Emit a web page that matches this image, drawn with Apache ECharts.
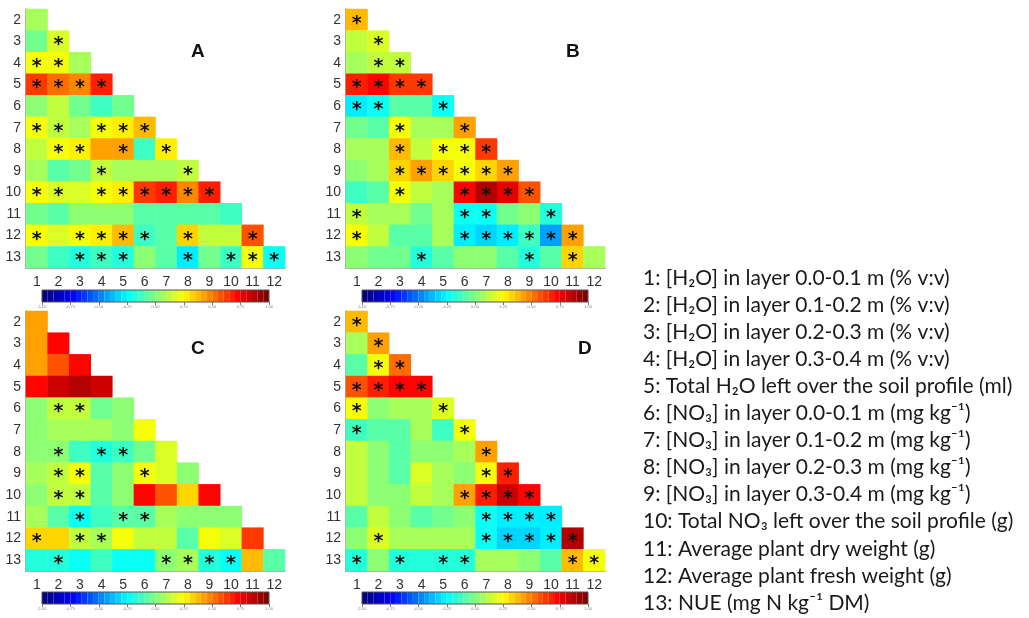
<!DOCTYPE html>
<html><head><meta charset="utf-8">
<script src="https://cdn.jsdelivr.net/npm/echarts@6/dist/echarts.min.js"></script>
<style>html,body{margin:0;padding:0;background:#fff}#c{width:1029px;height:618px}</style>
</head><body><div id="c"></div>
<script>
const colLabels = ['1','2','3','4','5','6','7','8','9','10','11','12'];
const rowLabels = ['2','3','4','5','6','7','8','9','10','11','12','13'];
const panelNames = ['A','B','C','D'];

const valuesA = [
  [0.10],
  [-0.02, 0.18],
  [0.23, 0.25, 0.10],
  [0.65, 0.53, 0.50, 0.70],
  [0.05, 0.13, 0.00, -0.10, -0.01],
  [0.23, 0.15, 0.10, 0.25, 0.28, 0.37],
  [0.15, 0.25, 0.28, 0.42, 0.42, -0.10, 0.26],
  [0.10, -0.07, 0.00, 0.15, 0.10, 0.10, 0.10, 0.13],
  [0.22, 0.17, 0.17, 0.25, 0.30, 0.63, 0.67, 0.50, 0.67],
  [0.00, -0.05, 0.02, 0.02, 0.02, -0.05, -0.07, -0.07, -0.07, -0.10],
  [0.22, 0.17, 0.22, 0.30, 0.36, -0.13, -0.07, 0.35, 0.13, 0.13, 0.57],
  [-0.03, -0.12, -0.18, -0.14, -0.18, 0.05, -0.07, -0.28, 0.00, -0.10, 0.25, -0.20]
];
const starsA = ['0','01','110','1111','00000','110111','0110101','00010001','110111111','0000000000','10111101001','001110010111'];

const valuesB = [
  [0.38],
  [0.15, 0.20],
  [0.10, 0.13, 0.13],
  [0.67, 0.72, 0.63, 0.63],
  [-0.25, -0.23, -0.07, -0.07, -0.23],
  [0.00, -0.07, 0.22, 0.07, 0.10, 0.45],
  [0.07, 0.10, 0.37, 0.13, 0.25, 0.25, 0.63],
  [0.03, 0.10, 0.32, 0.45, 0.35, 0.23, 0.33, 0.45],
  [-0.10, -0.07, 0.25, 0.13, 0.10, 0.72, 0.90, 0.78, 0.60],
  [0.15, 0.07, 0.10, 0.00, 0.10, -0.24, -0.20, -0.01, 0.02, -0.15],
  [0.24, 0.12, -0.07, -0.07, 0.10, -0.25, -0.30, -0.28, -0.13, -0.40, 0.42],
  [0.05, -0.02, -0.02, -0.15, -0.08, 0.05, 0.02, -0.08, -0.15, -0.05, 0.33, 0.10]
];
const starsB = ['1','01','011','1111','11001','001001','0010111','00111111','001001111','1000011001','10000111111','000100001010'];

const valuesC = [
  [0.45],
  [0.42, 0.73],
  [0.42, 0.60, 0.73],
  [0.73, 0.83, 0.87, 0.83],
  [0.02, 0.13, 0.15, -0.01, 0.05],
  [0.02, 0.07, 0.09, 0.07, 0.05, 0.22],
  [0.02, 0.05, -0.10, -0.18, -0.14, -0.01, 0.17],
  [0.09, 0.13, 0.24, -0.05, 0.05, 0.25, 0.20, 0.05],
  [0.02, 0.13, 0.15, -0.05, 0.02, 0.74, 0.57, 0.33, 0.74],
  [0.10, -0.07, -0.20, -0.12, -0.08, -0.05, 0.08, 0.02, 0.05, 0.02],
  [0.31, 0.31, 0.15, 0.10, 0.25, 0.13, 0.13, -0.05, 0.22, 0.17, 0.63],
  [-0.15, -0.18, -0.24, -0.14, -0.24, -0.20, 0.02, 0.10, -0.15, -0.22, 0.39, -0.08]
];
const starsC = ['0','00','000','0000','01100','000000','0101100','01100100','011000000','0010110000','10110000000','010000111100'];

const valuesD = [
  [0.38],
  [0.10, 0.42],
  [-0.07, 0.25, 0.53],
  [0.57, 0.70, 0.73, 0.73],
  [0.22, 0.05, 0.10, 0.10, 0.17],
  [-0.10, -0.05, -0.05, 0.07, -0.11, 0.25],
  [0.15, 0.02, -0.05, 0.05, 0.05, 0.09, 0.42],
  [0.13, 0.02, -0.05, 0.17, 0.10, 0.02, 0.25, 0.70],
  [0.13, 0.02, 0.02, 0.15, 0.10, 0.45, 0.67, 0.83, 0.74],
  [-0.05, 0.15, 0.02, -0.05, -0.01, 0.05, -0.20, -0.25, -0.25, -0.25],
  [0.02, 0.17, 0.07, 0.07, 0.10, 0.10, -0.22, -0.30, -0.30, -0.27, 0.90],
  [-0.15, 0.05, -0.15, -0.15, -0.15, -0.15, 0.10, 0.07, 0.02, -0.05, 0.36, 0.22]
];
const starsD = ['1','01','011','1111','10001','100001','0000001','00000011','000001111','0000001111','01000011111','101011000011'];

const legendLines = [
  '1: [H\u2082O] in layer 0.0-0.1 m (% v:v)',
  '2: [H\u2082O] in layer 0.1-0.2 m (% v:v)',
  '3: [H\u2082O] in layer 0.2-0.3 m (% v:v)',
  '4: [H\u2082O] in layer 0.3-0.4 m (% v:v)',
  '5: Total H\u2082O left over the soil profile (ml)',
  '6: [NO\u2083] in layer 0.0-0.1 m (mg kg\u207B\u00B9)',
  '7: [NO\u2083] in layer 0.1-0.2 m (mg kg\u207B\u00B9)',
  '8: [NO\u2083] in layer 0.2-0.3 m (mg kg\u207B\u00B9)',
  '9: [NO\u2083] in layer 0.3-0.4 m (mg kg\u207B\u00B9)',
  '10: Total NO\u2083 left over the soil profile (g)',
  '11: Average plant dry weight (g)',
  '12: Average plant fresh weight (g)',
  '13: NUE (mg N kg\u207B\u00B9 DM)'
];

const jet = ['#000080','#0000ff','#0080ff','#00ffff','#80ff80','#ffff00','#ff8000','#ff0000','#800000'];

const panels = [
  {values: valuesA, stars: starsA, left: 26, top: 9, h: 259, cbLeft: 42, cbTop: 290, cbW: 227, tx: 199, ty: 53},
  {values: valuesB, stars: starsB, left: 346, top: 9, h: 259, cbLeft: 362, cbTop: 290, cbW: 226, tx: 574, ty: 53},
  {values: valuesC, stars: starsC, left: 26, top: 311, h: 260, cbLeft: 42, cbTop: 592, cbW: 227, tx: 199, ty: 350},
  {values: valuesD, stars: starsD, left: 346, top: 311, h: 260, cbLeft: 362, cbTop: 592, cbW: 226, tx: 586, ty: 350}
];

function cells(values, stars) {
  const out = [];
  values.forEach((row, r) => row.forEach((v, c) => out.push([c, r, v, stars[r][c] === '1' ? 1 : 0])));
  return out;
}

const grid = [], xAxis = [], yAxis = [], series = [], visualMap = [], graphic = [];
const axisCol = '#8c8c8c';
panels.forEach((p, i) => {
  grid.push({left: p.left, top: p.top, width: 259, height: p.h, containLabel: false});
  xAxis.push({gridIndex: i, type: 'category', data: colLabels,
    axisLine: {lineStyle: {color: axisCol, width: 1.5}},
    axisTick: {alignWithLabel: true, length: 3, lineStyle: {color: axisCol}},
    axisLabel: {color: '#333', fontSize: 14, fontFamily: 'Liberation Sans', margin: 7, interval: 0},
    splitLine: {show: false}});
  yAxis.push({gridIndex: i, type: 'category', data: rowLabels, inverse: true,
    axisLine: {lineStyle: {color: axisCol, width: 1.5}},
    axisTick: {alignWithLabel: true, length: 3, lineStyle: {color: axisCol}},
    axisLabel: {color: '#333', fontSize: 14, fontFamily: 'Liberation Sans', margin: 5, interval: 0},
    splitLine: {show: false}});
  series.push({type: 'heatmap', xAxisIndex: i, yAxisIndex: i, data: cells(p.values, p.stars),
    itemStyle: {borderWidth: 0},
    label: {show: true, formatter: q => q.data[3] ? '*' : '', color: '#111', fontSize: 19, fontWeight: 'bold',
      fontFamily: 'DejaVu Sans', offset: [0, 4]},
    emphasis: {disabled: true}, silent: true, progressive: 0});
  visualMap.push({type: 'piecewise', seriesIndex: i, dimension: 2, min: -1, max: 1, splitNumber: 40,
    orient: 'horizontal', left: p.cbLeft, top: p.cbTop, itemWidth: p.cbW / 40, itemHeight: 12, itemGap: 0,
    itemSymbol: 'rect', showLabel: false, padding: 0, inRange: {color: jet}, hoverLink: false,
    selectedMode: false, text: null});
  graphic.push({type: 'text', left: p.tx - 8, top: p.ty - 11,
    style: {text: panelNames[i], font: 'bold 19px "Liberation Sans"', fill: '#111'}});
});
panels.forEach((p, i) => {
  const gi = i + 4;
  grid.push({left: p.cbLeft, top: p.cbTop, width: p.cbW, height: 12, show: true, borderColor: '#555',
    borderWidth: 1, backgroundColor: 'transparent', z: 10});
  xAxis.push({gridIndex: gi, type: 'value', min: -1, max: 1, interval: 0.25,
    axisLine: {show: false}, axisTick: {show: true, length: 3, lineStyle: {color: '#777'}},
    axisLabel: {fontSize: 4, color: '#888', margin: 3, formatter: v => v.toFixed(2)},
    splitLine: {show: false}, z: 10});
  yAxis.push({gridIndex: gi, type: 'value', min: 0, max: 1, show: false});
});
legendLines.forEach((t, k) => {
  graphic.push({type: 'text', x: 643, y: 278 + 27.08 * k,
    style: {text: t, font: '21px Lato', fill: '#1a1a1a', textVerticalAlign: 'middle'}});
});

const chart = echarts.init(document.getElementById('c'), null, {renderer: 'canvas'});
chart.setOption({animation: false, backgroundColor: '#fff', grid, xAxis, yAxis, series, visualMap, graphic});
</script></body></html>
